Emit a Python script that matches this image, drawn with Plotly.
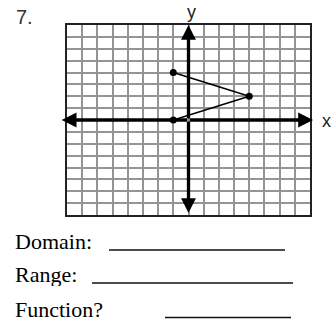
import plotly.graph_objects as go

W, H = 331, 320

# relation plotted on the grid
xs = [-1, 4, -1]
ys = [4, 2, 0]

grid_min, grid_max = -8, 8
questions = ['Domain:', 'Range:', 'Function?']


def px(x):
    return x / W


def py(y):
    return 1 - y / H


fig = go.Figure()
fig.add_trace(go.Scatter(
    x=xs, y=ys,
    mode='lines+markers',
    line=dict(color='black', width=1.5),
    marker=dict(color='black', size=7),
    showlegend=False,
    hoverinfo='skip'
))

axis_style = dict(
    range=[grid_min, grid_max],
    tick0=grid_min, dtick=1,
    showgrid=True, gridcolor='#949494', gridwidth=1.5,
    zeroline=False, showticklabels=False, ticks='',
    showline=True, mirror=True, linecolor='#222', linewidth=2,
    fixedrange=True
)

# axis arrows, drawn from the origin out to each end
arrow_ends = [(8.2, 0), (-8.35, 0), (0, 8), (0, -7.83)]
annotations = []
for tx, ty in arrow_ends:
    annotations.append(dict(
        x=tx, y=ty, ax=0, ay=0,
        xref='x', yref='y', axref='x', ayref='y',
        text='', showarrow=True,
        arrowhead=2, arrowsize=0.9, arrowwidth=3.3, arrowcolor='black'
    ))


def label(text, x, y, size, family='Liberation Sans', color='#222', anchor='center'):
    return dict(x=px(x), y=py(y), text=text, showarrow=False,
                xref='paper', yref='paper', xanchor=anchor, yanchor='middle',
                height=size + 2,
                font=dict(family=family, size=size, color=color))


annotations += [
    label('7.', 24, 17, 20, color='#333'),
    label('y', 191, 12, 18),
    label('x', 326, 121, 18),
]

text_rows = [241, 274, 309]
for q, yy in zip(questions, text_rows):
    annotations.append(label(q, 13, yy, 22, family='Liberation Serif',
                             color='black', anchor='left'))

# answer blanks
blanks = [(109, 285, 250), (92, 293, 283), (165, 291, 317.5)]
shapes = []
for x0, x1, yy in blanks:
    shapes.append(dict(type='line', xref='paper', yref='paper',
                       x0=px(x0), x1=px(x1), y0=py(yy), y1=py(yy),
                       line=dict(color='#111', width=1.3)))

fig.update_layout(
    width=W, height=H, autosize=False,
    margin=dict(l=0, r=0, t=0, b=0),
    paper_bgcolor='white', plot_bgcolor='white',
    xaxis=dict(domain=[px(67), px(310)], **axis_style),
    yaxis=dict(domain=[py(215), py(25)], **axis_style),
    annotations=annotations,
    shapes=shapes
)

fig.write_html("out.html", config={'displayModeBar': False},
               post_script="document.body.style.margin='0';")
